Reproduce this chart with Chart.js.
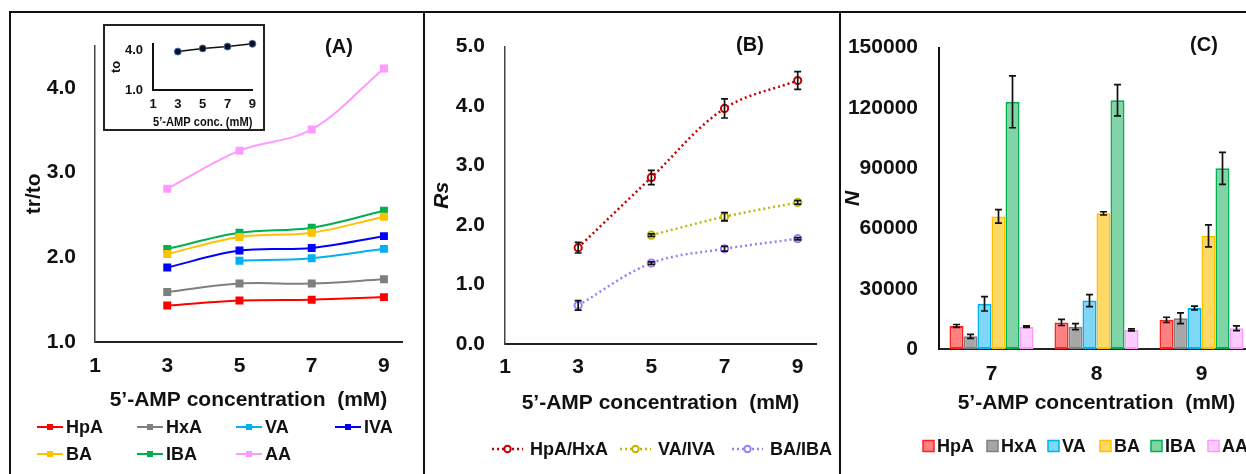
<!DOCTYPE html>
<html>
<head>
<meta charset="utf-8">
<script src="https://cdn.jsdelivr.net/npm/chart.js@4.4.1/dist/chart.umd.min.js"></script>
<style>
  html, body { margin: 0; padding: 0; background: #fff; overflow: hidden; }
  body { width: 1246px; height: 474px; position: relative; }
  canvas { position: absolute; }
  .rule { position: absolute; background: #111; }
  #inset { position: absolute; left: 103px; top: 24px; width: 158px; height: 103px; border: 2px solid #222; background: #fff; }
  #inset canvas { position: static; display: block; }
</style>
</head>
<body>
<div class="rule" style="left:9px;top:11px;width:1240px;height:2px"></div>
<div class="rule" style="left:9px;top:11px;width:2px;height:470px"></div>
<div class="rule" style="left:423px;top:11px;width:2px;height:470px"></div>
<div class="rule" style="left:839px;top:11px;width:2px;height:470px"></div>
<canvas id="chartA" width="410" height="460" style="left:12px;top:14px"></canvas>
<div id="inset"><canvas id="chartInset" width="158" height="103"></canvas></div>
<canvas id="chartB" width="411" height="460" style="left:427px;top:14px"></canvas>
<canvas id="chartC" width="438" height="460" style="left:842px;top:14px"></canvas>
<script>
// ---- data (A) tr/to ----
const concA = [3, 5, 7, 9];
const xTicksA = [1, 3, 5, 7, 9];
const yTicksA = [1, 2, 3, 4];
const hpA = [1.43, 1.49, 1.50, 1.53];
const hxA = [1.59, 1.69, 1.69, 1.74];
const vA = [null, 1.96, 1.99, 2.10];
const ivA = [1.88, 2.08, 2.11, 2.25];
const bA = [2.04, 2.24, 2.29, 2.48];
const ibA = [2.10, 2.29, 2.35, 2.55];
const aA = [2.81, 3.26, 3.51, 4.23];

// ---- data (A inset) to ----
const insetTo = [3.91, 4.15, 4.29, 4.50];
const insetYTicks = [1, 4];

// ---- data (B) Rs ----
const concB = [3, 5, 7, 9];
const yTicksB = [0, 1, 2, 3, 4, 5];
const rsHpHx = [1.62, 2.80, 3.96, 4.43];
const rsHpHxErr = [0.09, 0.12, 0.16, 0.15];
const rsVaIva = [null, 1.83, 2.14, 2.38];
const rsVaIvaErr = [0, 0.02, 0.07, 0.03];
const rsBaIba = [0.65, 1.36, 1.60, 1.77];
const rsBaIbaErr = [0.08, 0.02, 0.04, 0.02];

// ---- data (C) N ----
const concC = ['7', '8', '9'];
const yTicksC = [0, 30000, 60000, 90000, 120000, 150000];
const nHpA = [11500, 13200, 14500];
const nHpAErr = [700, 1500, 1300];
const nHxA = [6300, 11100, 15300];
const nHxAErr = [1000, 1500, 2700];
const nVA = [22500, 24100, 20400];
const nVAErr = [3600, 3000, 900];
const nBA = [66000, 67500, 56300];
const nBAErr = [3400, 800, 5500];
const nIBA = [123000, 123800, 89900];
const nIBAErr = [12900, 7800, 8000];
const nAA = [11100, 9500, 10300];
const nAAErr = [400, 500, 1200];

const family = "'Liberation Sans', Arial, sans-serif";
Chart.defaults.font.family = family;
Chart.defaults.font.weight = 'bold';
Chart.defaults.color = '#111';
Chart.defaults.animation = false;
Chart.defaults.plugins.legend.display = false;
Chart.defaults.plugins.tooltip.enabled = false;

const pts = (xs, ys) => xs.map((x, i) => ({ x: x, y: ys[i] }));
const setTicks = arr => s => { s.ticks = arr.map(v => ({ value: v })); };
const noGrid = { display: false, drawTicks: false };

// error bars drawn through the y scale
const errorBars = {
  id: 'errorBars',
  afterDatasetsDraw(chart) {
    const ctx = chart.ctx;
    const y = chart.scales.y;
    chart.data.datasets.forEach((ds, i) => {
      if (!ds.errors) return;
      const meta = chart.getDatasetMeta(i);
      ctx.save();
      ctx.strokeStyle = '#111';
      ctx.lineWidth = 1.7;
      meta.data.forEach((el, j) => {
        const raw = ds.data[j];
        const val = raw !== null && typeof raw === 'object' ? raw.y : raw;
        const e = ds.errors[j];
        if (val == null || !e) return;
        const top = y.getPixelForValue(val + e);
        const bot = y.getPixelForValue(val - e);
        ctx.beginPath();
        ctx.moveTo(el.x, top); ctx.lineTo(el.x, bot);
        ctx.moveTo(el.x - 3.5, top); ctx.lineTo(el.x + 3.5, top);
        ctx.moveTo(el.x - 3.5, bot); ctx.lineTo(el.x + 3.5, bot);
        ctx.stroke();
      });
      ctx.restore();
    });
  }
};

// legend at fixed spots, Excel style
const fixedLegend = {
  id: 'fixedLegend',
  afterDraw(chart, args, opts) {
    if (!opts.items) return;
    const ctx = chart.ctx;
    ctx.save();
    ctx.textBaseline = 'middle';
    opts.items.forEach(it => {
      const ds = chart.data.datasets[it.ds];
      if (opts.kind === 'box') {
        ctx.fillStyle = ds.backgroundColor;
        ctx.fillRect(it.x, it.y - 5.5, 11, 11);
        ctx.strokeStyle = ds.borderColor;
        ctx.lineWidth = 1.5;
        ctx.strokeRect(it.x, it.y - 5.5, 11, 11);
      } else {
        ctx.strokeStyle = ds.borderColor;
        ctx.lineWidth = ds.borderWidth;
        ctx.setLineDash(ds.borderDash || []);
        ctx.beginPath();
        ctx.moveTo(it.x, it.y);
        ctx.lineTo(it.x + opts.lineLen, it.y);
        ctx.stroke();
        ctx.setLineDash([]);
        const mx = it.x + opts.lineLen / 2;
        if (ds.pointStyle === 'rect') {
          ctx.fillStyle = ds.borderColor;
          ctx.fillRect(mx - 3, it.y - 3, 6, 6);
        } else {
          ctx.fillStyle = '#fff';
          ctx.lineWidth = 2;
          ctx.beginPath();
          ctx.arc(mx, it.y, 3.2, 0, Math.PI * 2);
          ctx.fill();
          ctx.stroke();
        }
      }
      ctx.fillStyle = '#111';
      ctx.font = 'bold ' + opts.size + 'px ' + family;
      ctx.fillText(ds.label, it.x + opts.textOff, it.y + 1);
    });
    ctx.restore();
  }
};

const panelLabel = {
  id: 'panelLabel',
  afterDraw(chart, args, opts) {
    if (!opts.text) return;
    const ctx = chart.ctx;
    ctx.save();
    ctx.font = 'bold 20px ' + family;
    ctx.textAlign = 'center';
    ctx.textBaseline = 'middle';
    ctx.fillStyle = '#111';
    ctx.fillText(opts.text, opts.x, opts.y);
    ctx.restore();
  }
};

Chart.register(errorBars, fixedLegend, panelLabel);

const tickFont = { size: 21, weight: 'bold' };
const axisBorderX = { color: '#222', width: 2 };
const axisBorderY = { color: '#444', width: 1.5 };

function lineSet(label, data, color) {
  return {
    label: label, data: pts(concA, data), borderColor: color, backgroundColor: color,
    borderWidth: 2, pointStyle: 'rect', pointRadius: 4.2, tension: 0.35, spanGaps: false
  };
}

// ---- chart A ----
new Chart(document.getElementById('chartA'), {
  type: 'line',
  data: {
    datasets: [
      lineSet('HpA', hpA, '#FF0000'),
      lineSet('HxA', hxA, '#7F7F7F'),
      lineSet('VA', vA, '#00B0F0'),
      lineSet('IVA', ivA, '#0000FF'),
      lineSet('BA', bA, '#FFC000'),
      lineSet('IBA', ibA, '#00B050'),
      lineSet('AA', aA, '#FF99FF')
    ]
  },
  options: {
    responsive: false,
    layout: { padding: { left: 0, top: 23, right: 20, bottom: 0 } },
    scales: {
      x: {
        type: 'linear', min: 1, max: 9.5,
        afterBuildTicks: setTicks(xTicksA),
        afterFit: s => { s.height = 132; },
        grid: noGrid, border: axisBorderX,
        ticks: { padding: 12, font: tickFont },
        title: { display: true, text: '5’-AMP concentration  (mM)', font: tickFont, padding: { top: 0, bottom: 61 } }
      },
      y: {
        min: 1, max: 4.5,
        afterBuildTicks: setTicks(yTicksA),
        afterFit: s => { s.width = 83; },
        grid: noGrid, border: axisBorderY,
        ticks: { padding: 19, font: tickFont, callback: v => v.toFixed(1) },
        title: { display: true, text: 'tr/to', font: tickFont, padding: { top: 10, bottom: 0 } }
      }
    },
    plugins: {
      fixedLegend: {
        size: 18, lineLen: 26, textOff: 29,
        items: [
          { ds: 0, x: 25, y: 413 }, { ds: 1, x: 125, y: 413 }, { ds: 2, x: 224, y: 413 }, { ds: 3, x: 323, y: 413 },
          { ds: 4, x: 25, y: 440 }, { ds: 5, x: 125, y: 440 }, { ds: 6, x: 224, y: 440 }
        ]
      },
      panelLabel: { text: '(A)', x: 327, y: 33 }
    }
  }
});

// ---- inset ----
const insetFont = { size: 13, weight: 'bold' };
new Chart(document.getElementById('chartInset'), {
  type: 'line',
  data: {
    datasets: [{
      label: 'to', data: pts(concA, insetTo), borderColor: '#111', borderWidth: 1.5,
      pointRadius: 3.5, pointBackgroundColor: '#111', pointBorderColor: '#4472C4', pointBorderWidth: 1,
      tension: 0, clip: false
    }]
  },
  options: {
    responsive: false,
    layout: { padding: { left: 0, top: 11, right: 10, bottom: 0 } },
    scales: {
      x: {
        type: 'linear', min: 1, max: 9,
        afterBuildTicks: setTicks(xTicksA),
        afterFit: s => { s.height = 39; },
        grid: noGrid, border: { color: '#111', width: 2 },
        ticks: { padding: 7, font: insetFont },
        title: { display: true, text: '5’-AMP conc. (mM)', font: { size: 13, weight: 'bold', lineHeight: 1 }, padding: { top: 0, bottom: 0 } }
      },
      y: {
        min: 1, max: 4.5,
        afterBuildTicks: setTicks(insetYTicks),
        afterFit: s => { s.width = 48; },
        grid: noGrid, border: { color: '#111', width: 2 },
        ticks: { padding: 10, font: insetFont, callback: v => v.toFixed(1) },
        title: { display: true, text: 'to', font: insetFont, padding: { top: 4, bottom: 0 } }
      }
    }
  }
});

// ---- chart B ----
function rsSet(label, data, errs, color) {
  return {
    label: label, data: pts(concB, data), errors: errs, borderColor: color,
    borderWidth: 2.5, borderDash: [2, 3], pointStyle: 'circle', pointRadius: 3.6,
    pointBorderWidth: 2, pointBackgroundColor: '#fff', tension: 0.35
  };
}
new Chart(document.getElementById('chartB'), {
  type: 'line',
  data: {
    datasets: [
      rsSet('HpA/HxA', rsHpHx, rsHpHxErr, '#C00000'),
      rsSet('VA/IVA', rsVaIva, rsVaIvaErr, '#BDB800'),
      rsSet('BA/IBA', rsBaIba, rsBaIbaErr, '#9C7CFF')
    ]
  },
  options: {
    responsive: false,
    layout: { padding: { left: 0, top: 24, right: 22, bottom: 0 } },
    scales: {
      x: {
        type: 'linear', min: 1, max: 9.5,
        afterBuildTicks: setTicks(xTicksA),
        afterFit: s => { s.height = 130; },
        grid: noGrid, border: axisBorderX,
        ticks: { padding: 11, font: tickFont },
        title: { display: true, text: '5’-AMP concentration  (mM)', font: tickFont, padding: { top: 0, bottom: 58 } }
      },
      y: {
        min: 0, max: 5,
        afterBuildTicks: setTicks(yTicksB),
        afterFit: s => { s.width = 78; },
        grid: noGrid, border: axisBorderY,
        ticks: { padding: 20, font: tickFont, callback: v => v.toFixed(1) },
        title: { display: true, text: 'Rs', font: { size: 21, weight: 'bold', style: 'italic' }, padding: { top: 3, bottom: 0 } }
      }
    },
    plugins: {
      fixedLegend: {
        size: 18, lineLen: 31, textOff: 38,
        items: [{ ds: 0, x: 65, y: 435 }, { ds: 1, x: 193, y: 435 }, { ds: 2, x: 305, y: 435 }]
      },
      panelLabel: { text: '(B)', x: 323, y: 31 }
    }
  }
});

// ---- chart C ----
function barSet(label, data, errs, fill, line) {
  return {
    label: label, data: data, errors: errs, backgroundColor: fill, borderColor: line,
    borderWidth: 2, borderSkipped: false, categoryPercentage: 0.8, barPercentage: 1.0
  };
}
new Chart(document.getElementById('chartC'), {
  type: 'bar',
  data: {
    labels: concC,
    datasets: [
      barSet('HpA', nHpA, nHpAErr, '#FF8080', '#FF2020'),
      barSet('HxA', nHxA, nHxAErr, '#A6A6A6', '#7F7F7F'),
      barSet('VA', nVA, nVAErr, '#80D6F6', '#00B0F0'),
      barSet('BA', nBA, nBAErr, '#FFD966', '#FFC000'),
      barSet('IBA', nIBA, nIBAErr, '#80D4A6', '#00B050'),
      barSet('AA', nAA, nAAErr, '#FFCCFF', '#FF99FF')
    ]
  },
  options: {
    responsive: false,
    layout: { padding: { left: 0, top: 24, right: 26, bottom: 0 } },
    scales: {
      x: {
        afterFit: s => { s.height = 125; },
        grid: noGrid, border: axisBorderX,
        ticks: { padding: 13, font: tickFont },
        title: { display: true, text: '5’-AMP concentration  (mM)', font: tickFont, padding: { top: 0, bottom: 58 } }
      },
      y: {
        min: 0, max: 150000,
        afterBuildTicks: setTicks(yTicksC),
        afterFit: s => { s.width = 97; },
        grid: noGrid, border: { color: '#111', width: 2 },
        ticks: { padding: 21, font: tickFont, callback: v => String(v) },
        title: { display: true, text: 'N', font: { size: 21, weight: 'bold', style: 'italic', lineHeight: 1 }, padding: { top: 1, bottom: 0 } }
      }
    },
    plugins: {
      fixedLegend: {
        kind: 'box', size: 18, textOff: 14,
        items: [
          { ds: 0, x: 81, y: 432 }, { ds: 1, x: 145, y: 432 }, { ds: 2, x: 206, y: 432 },
          { ds: 3, x: 258, y: 432 }, { ds: 4, x: 309, y: 432 }, { ds: 5, x: 366, y: 432 }
        ]
      },
      panelLabel: { text: '(C)', x: 362, y: 31 }
    }
  }
});
</script>
</body>
</html>
